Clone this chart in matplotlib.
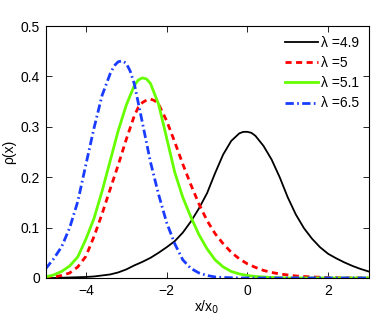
import matplotlib
matplotlib.use("Agg")
from matplotlib import pyplot as plt

plt.rcParams['font.family'] = ['Liberation Sans', 'DejaVu Sans']

# x (in units of x0) and rho(x) for each lambda
x_49 = [-5.0, -4.8, -4.6, -4.4, -4.2, -4.0, -3.8, -3.6, -3.4, -3.2, -3.0, -2.8, -2.6, -2.4,
        -2.2, -2.0, -1.8, -1.6, -1.4, -1.2, -1.0, -0.8, -0.6, -0.4, -0.2, -0.1, 0.0, 0.1,
        0.2, 0.4, 0.6, 0.8, 1.0, 1.2, 1.4, 1.6, 1.8, 2.0, 2.2, 2.4, 2.6, 2.8, 3.0]
rho_49 = [0.0, 0.0, 0.0005, 0.001, 0.0015, 0.002, 0.003, 0.005, 0.007, 0.011, 0.017, 0.025,
          0.032, 0.040, 0.050, 0.061, 0.073, 0.090, 0.112, 0.138, 0.168, 0.208, 0.245, 0.272,
          0.287, 0.290, 0.290, 0.288, 0.282, 0.262, 0.235, 0.200, 0.160, 0.126, 0.099, 0.078,
          0.061, 0.048, 0.039, 0.031, 0.024, 0.018, 0.013]

x_5 = [-5.0, -4.8, -4.6, -4.4, -4.2, -4.0, -3.8, -3.6, -3.4, -3.2, -3.0, -2.8, -2.7, -2.6,
       -2.5, -2.4, -2.3, -2.2, -2.0, -1.8, -1.6, -1.4, -1.2, -1.0, -0.8, -0.6, -0.4, -0.2,
       0.0, 0.2, 0.4, 0.6, 0.8, 1.0, 1.2, 1.4, 1.6, 1.8, 2.0, 2.2, 2.4, 2.6, 3.0]
rho_5 = [0.0, 0.002, 0.005, 0.010, 0.022, 0.043, 0.082, 0.127, 0.176, 0.224, 0.275, 0.322,
         0.339, 0.348, 0.353, 0.355, 0.352, 0.345, 0.312, 0.270, 0.226, 0.185, 0.147, 0.114,
         0.088, 0.068, 0.051, 0.038, 0.028, 0.021, 0.015, 0.011, 0.008, 0.006, 0.004, 0.003,
         0.002, 0.0015, 0.001, 0.0005, 0.0003, 0.0, 0.0]

x_51 = [-5.0, -4.8, -4.6, -4.4, -4.2, -4.0, -3.8, -3.6, -3.4, -3.2, -3.0, -2.8, -2.7, -2.6,
        -2.5, -2.4, -2.2, -2.0, -1.8, -1.6, -1.4, -1.2, -1.0, -0.8, -0.6, -0.4, -0.2, 0.0,
        0.2, 0.4, 0.6, 0.8, 1.0, 2.0, 3.0]
rho_51 = [0.002, 0.006, 0.013, 0.024, 0.042, 0.077, 0.118, 0.172, 0.232, 0.292, 0.343, 0.382,
          0.393, 0.397, 0.395, 0.386, 0.345, 0.278, 0.210, 0.160, 0.121, 0.086, 0.058, 0.036,
          0.022, 0.013, 0.008, 0.005, 0.003, 0.002, 0.001, 0.0005, 0.0, 0.0, 0.0]

x_65 = [-5.0, -4.8, -4.6, -4.4, -4.2, -4.0, -3.8, -3.6, -3.4, -3.3, -3.2, -3.1, -3.0, -2.9,
        -2.8, -2.6, -2.4, -2.2, -2.0, -1.8, -1.6, -1.4, -1.2, -1.0, -0.8, -0.6, -0.4, -0.2,
        0.0, 1.0, 2.0, 3.0]
rho_65 = [0.018, 0.038, 0.062, 0.100, 0.152, 0.225, 0.297, 0.362, 0.405, 0.421, 0.429, 0.431,
          0.426, 0.410, 0.385, 0.308, 0.230, 0.166, 0.110, 0.068, 0.036, 0.019, 0.010, 0.005,
          0.002, 0.001, 0.0005, 0.0, 0.0, 0.0, 0.0, 0.0]

xticks = [-4, -2, 0, 2]
xticklabels = ['\u22124', '\u22122', '0', '2']
yticks = [0, 0.1, 0.2, 0.3, 0.4, 0.5]
yticklabels = ['0', '0.1', '0.2', '0.3', '0.4', '0.5']

fig = plt.figure(figsize=(3.74, 3.16), dpi=100)
ax = fig.add_axes([0.1217, 0.1203, 0.8636, 0.7974])

ax.plot(x_49, rho_49, color='black', lw=1.3, label='\u03bb =4.9')
ax.plot(x_5, rho_5, color='red', lw=2.0, ls=(0, (2.2, 1.6)), label='\u03bb =5')
ax.plot(x_51, rho_51, color='#66ff00', lw=2.0, label='\u03bb =5.1')
ax.plot(x_65, rho_65, color='#1a3cff', lw=2.0, ls=(0, (3.0, 1.2, 0.6, 1.2)), label='\u03bb =6.5')

ax.set_xlim(-5, 3)
ax.set_ylim(0, 0.5)
ax.set_xticks(xticks)
ax.set_xticklabels(xticklabels)
ax.set_yticks(yticks)
ax.set_yticklabels(yticklabels)
ax.tick_params(direction='in', length=4, width=0.6, top=True, right=True,
               labelsize=10, colors='black', pad=4)
for s in ax.spines.values():
    s.set_linewidth(0.8)

ax.set_xlabel('x/x$_0$', fontsize=10, labelpad=1)
ax.set_ylabel('\u03c1(x)', fontsize=10, labelpad=3)

ax.legend(loc='upper right', frameon=False, fontsize=10, handlelength=2.4,
          handletextpad=0.2, labelspacing=0.45, borderaxespad=0.3)

fig.savefig('out.png', dpi=100)
